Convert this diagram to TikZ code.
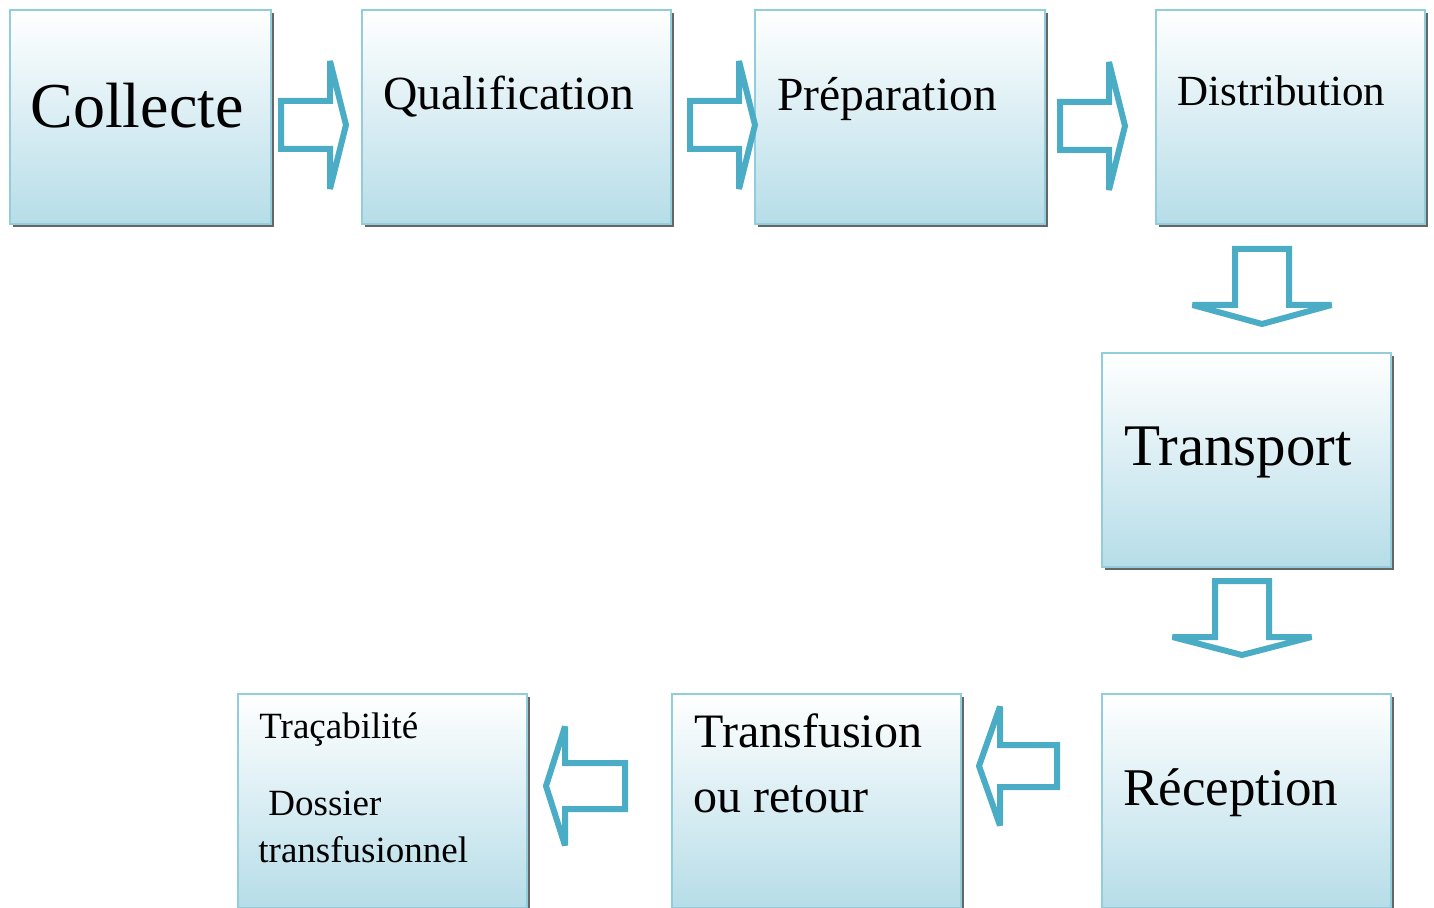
\documentclass[tikz,border=0pt]{standalone}
\usepackage{fontspec}
\setmainfont{Liberation Serif}
\usetikzlibrary{shadows}

\definecolor{boxline}{RGB}{146,205,220}
\definecolor{boxbot}{RGB}{182,221,232}
\definecolor{arrowblue}{RGB}{75,172,198}

\tikzset{
  etape/.style={draw=boxline,line width=1pt,top color=white,bottom color=boxbot,
    anchor=north west,inner sep=0pt,outer sep=0pt,minimum height=107pt,
    drop shadow={shadow xshift=1.5pt,shadow yshift=-1.5pt,fill=black!60,opacity=1}},
  txt/.style={anchor=base west,inner sep=0pt},
  % hollow block arrow: length / start of head / half head / half shaft
  pics/fleche/.style n args={4}{code={
    \draw[arrowblue,fill=white,line width=3pt,miter limit=3]
      (0,-#4) -- (#2,-#4) -- (#2,-#3) -- (#1,0) -- (#2,#3) -- (#2,#4) -- (0,#4) -- cycle;
  }}
}

\begin{document}
\begin{tikzpicture}[x=0.5pt,y=-0.5pt]
           \useasboundingbox (0,0) rectangle (1434,908);
           % boxes
           \node[etape,minimum width=130.5pt] (collecte) at (10,10) {};
           \node[etape,minimum width=154.5pt] (qualif) at (362,10) {};
           \node[etape,minimum width=145pt] (prepa) at (755,10) {};
           \node[etape,minimum width=134.5pt] (distrib) at (1156,10) {};
           \node[etape,minimum width=144.5pt] (transport) at (1102,353) {};
           \node[etape,minimum width=144.5pt] (reception) at (1102,694) {};
           \node[etape,minimum width=144.5pt] (transf) at (672,694) {};
           \node[etape,minimum width=144.5pt] (traca) at (238,694) {};
           % texts
           \node[txt,font=\fontsize{32}{38}\selectfont] (collecte-t) at (30,128) {Collecte};
           \node[txt,font=\fontsize{23.8}{28}\selectfont] (qualif-t) at (383,110) {Qualification};
           \node[txt,font=\fontsize{23.8}{28}\selectfont] (prepa-t) at (777,111) {Préparation};
           \node[txt,font=\fontsize{21.5}{26}\selectfont] (distrib-t) at (1177,106) {Distribution};
           \node[txt,font=\fontsize{29.5}{36}\selectfont] (transport-t) at (1124,466) {Transport};
           \node[txt,font=\fontsize{26.5}{30}\selectfont] (reception-t) at (1123,805) {Réception};
           \node[txt,font=\fontsize{24}{28}\selectfont] (transf-t) at (694,747) {Transfusion};
           \node[txt,font=\fontsize{24}{28}\selectfont] (retour-t) at (693,812) {ou retour};
           \node[txt,font=\fontsize{18.5}{22}\selectfont] (traca-t) at (259,738) {Traçabilité};
           \node[txt,font=\fontsize{18.5}{22}\selectfont] (dossier-t) at (268,815) {Dossier};
           \node[txt,font=\fontsize{18.5}{22}\selectfont] (transfus-t) at (258,862) {transfusionnel};
           % block arrows
           \pic (a1) at (281,125) {fleche={65}{49}{64}{24}};
           \pic (a2) at (690,125) {fleche={65}{49}{64}{24}};
           \pic (a3) at (1060,126) {fleche={65}{49}{64}{24}};
           \pic[rotate=-90] (a4) at (1262,249) {fleche={75}{56}{69.5}{27}};
           \pic[rotate=-90] (a5) at (1242,581) {fleche={74}{56}{69.5}{27}};
           \pic[rotate=180] (a6) at (1057,766) {fleche={78}{57}{59.5}{21}};
           \pic[rotate=180] (a7) at (625,786) {fleche={79}{60}{59.5}{23}};
        \end{tikzpicture}
\end{document}
